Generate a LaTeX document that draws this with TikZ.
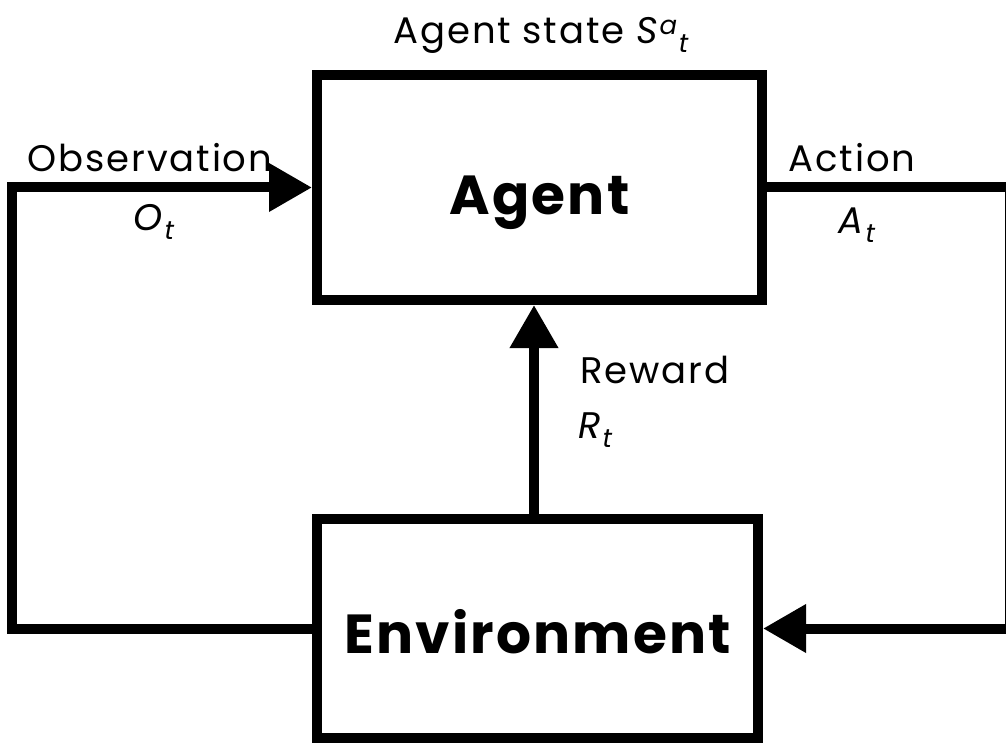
\documentclass[tikz,border=0pt]{standalone}
\usepackage{fontspec}
\setmainfont{Poppins}
\usepackage{tikz}
\usetikzlibrary{arrows.meta,positioning}
\tikzset
{
    block/.style = {draw=black, line width=10pt, inner sep=0pt, align=center, font=\fontsize{55}{60}\selectfont\bfseries\addfontfeatures{LetterSpace=4}},
    label/.style = {inner sep=0pt, font=\fontsize{37}{40}\selectfont\addfontfeatures{LetterSpace=5}},
    flow/.style  = {line width=10pt, line join=miter, -{Triangle[length=43pt,width=46pt]}}
}

\begin{document}
\begin{tikzpicture}[x=1pt, y=-1pt]
    \useasboundingbox (0,0) rectangle (1006,746);
    \clip (0,0) rectangle (1006,746);
    \node [block, minimum width=445pt, minimum height=225pt] (agent) at (539.5,187.5) {\raisebox{-27pt}[0pt][0pt]{Agent}};
    \node [block, minimum width=441pt, minimum height=219pt] (environment) at (537.5,628.5) {\raisebox{-25pt}[0pt][0pt]{Environment}};
    \coordinate (obsleft) at (12,400);
    \coordinate (actright) at (1010,400);
    % loop
    \draw [flow] (environment.west) -| (obsleft) |- (agent.west);
    \draw [flow] (agent.east) -| (actright) |- (environment.east);
    \draw [flow] (environment.north -| 534,0) -- (agent.south -| 534,0);
    % labels
    \node [label] (state) at (542,35) {Agent state \textit{S}\textsuperscript{\textit{a}}\textsubscript{\textit{t}}};
    \node [label] (observation) at (150,158) {Observation};
    \node [label] (obs) at (155,222) {\textit{O}\textsubscript{\textit{t}}};
    \node [label] (action) at (852,158) {Action};
    \node [label] (act) at (858,225) {\textit{A}\textsubscript{\textit{t}}};
    \node [label] (reward) at (655,370) {Reward};
    \node [label, anchor=west] (rew) at (578,430) {\textit{R}\textsubscript{\textit{t}}};
\end{tikzpicture}
\end{document}
